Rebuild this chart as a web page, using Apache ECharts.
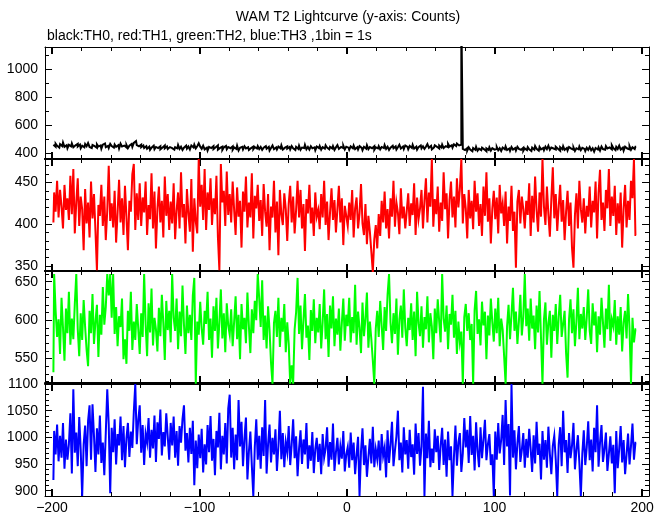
<!DOCTYPE html>
<html><head><meta charset="utf-8">
<script src="https://cdn.jsdelivr.net/npm/echarts@6/dist/echarts.min.js"></script>
<style>html,body{margin:0;padding:0;background:#fff}#c{width:669px;height:515px}</style>
</head><body><div id="c"></div>
<script>
const titleText = 'WAM T2 Lightcurve (y-axis: Counts)';
const subtitleText = 'black:TH0, red:TH1, green:TH2, blue:TH3 ,1bin = 1s';
const binStart = -199; // time (s) of the first 1-s bin; bins follow at 1 s

const th0 = [
462,448,470,455,441,466,452,478,447,459,436,461,450,472,444,458,468,449,463,437,
455,443,467,451,474,446,438,460,452,440,465,449,457,433,462,471,445,454,439,468,
452,441,463,447,458,436,470,449,456,443,461,438,455,467,446,475,488,459,450,462,
444,457,439,452,434,448,426,441,455,430,446,438,451,429,443,457,436,449,431,445,
438,452,427,444,436,460,432,447,425,441,455,434,449,428,457,443,462,436,451,472,
448,433,455,429,441,420,446,438,452,431,444,457,427,439,448,425,442,453,430,446,
437,450,426,443,432,455,421,440,447,429,451,436,444,424,438,449,430,445,435,452,
431,446,425,440,452,433,447,421,439,456,430,443,428,449,436,458,427,441,450,434,
445,428,452,437,424,447,433,455,426,442,438,461,430,446,427,451,436,443,422,449,
438,453,427,445,434,458,441,429,447,436,452,425,443,459,432,446,438,455,429,448,
441,426,450,437,456,431,444,428,452,439,423,447,434,458,430,445,437,451,426,443,
436,452,429,446,438,460,433,448,425,441,455,437,450,428,444,462,435,449,431,457,
446,430,453,439,461,434,448,427,445,457,436,451,432,447,466,440,454,429,443,458,
447,435,456,442,463,438,452,444,468,449,458,441,465,452,470,457,462,1400,432,424,
437,420,444,428,416,439,426,447,419,434,423,441,429,415,436,425,443,420,438,427,
431,446,422,437,418,442,429,450,424,435,419,445,427,438,421,447,432,426,440,418,
436,424,445,430,417,441,427,452,433,420,446,429,438,423,448,431,455,426,442,435,
428,447,433,419,444,430,451,425,439,421,446,434,427,443,418,437,429,449,424,440,
432,417,441,426,446,422,437,413,439,428,444,420,449,431,426,452,435,443,429,458,
438,424,447,432,455,427,441,420,448,435,429,452,426,444,431,447
];
const th1 = [
402,438,415,452,408,441,421,395,447,417,431,405,458,412,466,389,426,455,398,433,
418,369,442,401,426,384,451,407,436,392,345,423,410,447,398,433,381,416,470,404,
425,396,440,378,414,453,402,431,387,446,409,369,428,415,460,472,393,437,405,449,
398,432,414,451,387,423,406,461,395,439,371,418,445,402,428,384,457,410,436,393,
427,401,449,382,416,438,395,462,408,424,377,442,413,391,454,367,431,403,389,478,
421,447,405,466,393,438,417,455,399,431,412,458,385,345,472,426,440,398,463,411,
436,402,451,417,387,444,409,428,372,439,415,457,396,426,408,461,383,434,419,447,
404,429,386,448,415,397,436,369,421,408,452,390,427,363,441,412,399,437,418,380,
425,446,402,433,389,417,452,408,441,395,424,368,430,413,447,401,420,386,438,409,
417,394,436,408,452,399,427,381,414,443,405,429,390,418,446,402,431,375,422,410,
398,426,405,441,384,419,432,395,413,448,401,387,424,376,410,391,367,343,382,399,
371,412,386,428,402,439,395,418,383,431,409,452,397,426,414,388,443,407,421,395,
416,437,398,425,411,449,387,432,406,419,441,395,428,455,402,438,421,478,397,430,
412,445,391,426,404,462,418,437,383,429,451,408,433,396,455,420,442,478,401,436,
419,383,441,407,428,394,452,415,437,398,424,386,445,410,462,403,431,377,418,440,
406,432,389,447,413,425,398,439,377,421,404,446,392,415,348,427,441,401,433,418,
395,428,411,449,386,434,402,457,417,391,438,409,478,421,399,445,412,385,430,468,
407,436,392,421,447,403,429,381,415,440,398,426,372,348,411,437,395,452,418,402,
431,389,422,409,445,396,428,414,451,383,437,465,405,426,392,441,419,466,398,433,
410,446,387,425,401,438,372,419,447,396,428,405,452,431,478,387
];
const th2 = [
532,660,612,578,601,556,629,590,547,615,583,637,568,602,575,621,660,588,553,609,
574,626,591,561,540,612,583,634,569,598,620,552,607,581,643,594,617,660,632,660,
603,660,582,617,566,605,591,628,549,575,543,612,586,637,561,598,574,621,589,556,
609,578,660,595,553,622,584,641,567,603,588,559,616,579,633,596,548,625,587,612,
571,660,603,586,628,562,611,579,645,594,556,619,583,607,574,632,655,517,598,581,
624,589,568,612,595,637,574,602,551,618,586,629,563,597,640,576,609,558,622,593,
581,614,566,598,631,575,607,549,621,588,603,570,636,592,557,614,583,625,600,660,
628,591,652,574,606,563,618,587,544,517,596,612,578,629,565,603,585,621,558,597,
569,517,541,517,588,610,655,582,619,562,600,634,577,593,548,613,586,627,570,603,
584,621,563,597,640,575,608,552,619,589,631,566,602,581,615,560,596,628,573,607,
592,629,571,604,583,646,568,611,590,557,623,579,602,636,564,598,575,547,517,589,
612,578,625,593,561,617,586,633,660,597,570,609,582,628,555,601,619,577,640,590,
566,603,587,622,574,611,553,637,596,579,618,564,604,588,631,571,609,592,549,615,
583,627,598,571,660,602,585,619,562,608,594,633,577,612,556,598,571,585,517,604,
621,586,609,574,595,517,613,638,582,601,567,624,593,611,549,606,580,628,597,572,
615,583,629,566,602,588,553,517,592,620,575,607,642,586,611,569,598,633,580,604,
660,592,615,573,628,589,606,562,619,584,638,577,517,601,623,568,596,612,551,607,
586,621,569,604,633,578,595,612,557,525,601,627,583,614,566,598,642,575,608,589,
617,574,603,640,586,569,622,593,611,558,605,581,629,597,564,615,588,646,573,601,
592,626,568,605,581,617,559,597,612,576,634,589,517,603,571,588
];
const th3 = [
920,1012,968,1024,955,1003,962,1027,941,996,958,987,1045,932,1090,971,1009,946,1038,977,
890,987,1022,946,1031,1060,958,1062,1003,935,1017,968,1041,952,990,929,1008,1090,1024,895,
1018,972,1034,949,1006,985,1039,957,1021,944,998,1027,963,1011,980,1048,1100,987,1032,1060,
971,1023,948,1007,990,1036,962,1014,979,1041,954,1028,997,1052,966,1010,983,1045,1001,958,
1027,985,1039,962,1012,947,1021,990,1034,1060,975,1008,953,1018,969,1031,910,994,942,1005,
961,1016,934,987,949,1023,972,1040,956,997,929,1012,981,1046,940,1003,968,1027,951,1054,
1080,962,1018,940,1005,957,1070,983,1029,946,998,1037,921,973,1011,947,890,982,1034,958,
1003,941,1019,965,1070,932,987,1024,953,999,968,1015,937,983,1050,959,1008,944,991,972,
1021,948,986,1034,961,1002,927,979,1013,950,996,968,1027,941,985,956,1010,933,978,999,
954,988,931,1006,962,979,1019,945,991,958,1026,937,972,999,949,983,960,1012,936,968,
982,943,1009,957,990,931,968,1001,890,974,1017,948,985,926,962,997,951,1020,944,978,
959,994,938,1006,965,981,925,1013,952,987,1029,946,975,1002,1050,957,990,934,1019,968,
995,941,1014,963,987,930,1026,969,1008,947,983,1095,890,1007,961,1031,944,979,952,1015,
972,1003,939,985,1018,948,996,926,1011,957,983,890,964,1022,947,991,1008,935,970,1036,
981,1014,952,1040,967,1003,938,1028,975,944,1019,961,996,1033,957,987,1006,948,968,890,
1011,958,1027,970,995,1042,948,1070,983,1025,891,1100,962,1013,940,989,1021,954,976,1008,
943,997,962,1016,978,935,1004,951,1029,967,988,921,1012,958,995,943,1020,969,931,984,
1003,958,890,987,1019,946,1050,972,995,933,1008,961,984,1027,940,976,1004,952,890,969,
1013,948,981,1030,957,996,936,1018,972,1060,945,990,1023,954,978,1009,937,969,1002,951,
986,895,1012,942,978,1021,953,995,931,968,1007,949,984,1026,958,990
];

const seriesData = [th0, th1, th2, th3];
const seriesColors = ['#000000', '#ff0000', '#00ff00', '#0000ff'];
const xRange = [-204.7, 204.7];
const xMajorTicks = [-200, -100, 0, 100, 200];
const xMinorTicks = [-200,-180,-160,-140,-120,-100,-80,-60,-40,-20,0,20,40,60,80,100,120,140,160,180,200];
const yRanges = [[360, 1160], [344, 478], [518, 664], [890, 1100]];
const yMajorTicks = [[400, 600, 800, 1000], [350, 400, 450], [550, 600, 650], [900, 950, 1000, 1050, 1100]];
const yMinorTicks = [
  [400, 500, 600, 700, 800, 900, 1000, 1100],
  [350, 360, 370, 380, 390, 400, 410, 420, 430, 440, 450, 460, 470],
  [520, 530, 540, 550, 560, 570, 580, 590, 600, 610, 620, 630, 640, 650, 660],
  [890, 900, 910, 920, 930, 940, 950, 960, 970, 980, 990, 1000, 1010, 1020, 1030, 1040, 1050, 1060, 1070, 1080, 1090, 1100]
];

const FONT = '"Liberation Sans", Arial, Helvetica, sans-serif';
const gridTops = [47, 159, 271, 384];
const gridH = 112;
const grids = gridTops.map(t => ({left: 45, right: 20, top: t, height: gridH, show: false, outerBoundsMode: 'none', containLabel: false}));

const xAxes = [], yAxes = [], xIdx = [], yIdx = [];
function fmtX(v) { return v < 0 ? '\u2212' + Math.abs(v) : String(v); }
function fmtY(v) { return String(v); }

function axisCommon(gi, pos, min, max, ticks, len, tw, lw) {
  return {
    type: 'value', gridIndex: gi, position: pos, min: min, max: max,
    axisLine: {show: lw > 0, onZero: false, lineStyle: {color: '#000', width: lw}},
    axisTick: {show: true, inside: true, length: len, customValues: ticks, lineStyle: {color: '#000', width: tw}},
    axisLabel: {show: false},
    splitLine: {show: false}, minorTick: {show: false}, minorSplitLine: {show: false},
    axisPointer: {show: false}
  };
}

for (let p = 0; p < 4; p++) {
  const bottomW = p === 3 ? 1 : 2;
  const topW = p === 0 ? 1 : 2;
  const xb = axisCommon(p, 'bottom', xRange[0], xRange[1], xMinorTicks, 4, 1, bottomW);
  if (p === 3) {
    xb.axisLabel = {show: true, customValues: xMajorTicks, formatter: fmtX, margin: 5,
      color: '#000', fontSize: 14, fontFamily: FONT};
  }
  xIdx.push(xAxes.length); xAxes.push(xb);
  xAxes.push(axisCommon(p, 'bottom', xRange[0], xRange[1], xMajorTicks, 7, 2, 0));
  xAxes.push(axisCommon(p, 'top', xRange[0], xRange[1], xMinorTicks, 4, 1, topW));
  xAxes.push(axisCommon(p, 'top', xRange[0], xRange[1], xMajorTicks, 7, 2, 0));
  const [ymin, ymax] = yRanges[p];
  const yl = axisCommon(p, 'left', ymin, ymax, yMinorTicks[p], 4, 1, 1);
  yl.axisLabel = {show: true, customValues: yMajorTicks[p], formatter: fmtY, margin: 7, color: '#000',
    fontSize: 14, fontFamily: FONT, showMinLabel: true, showMaxLabel: true};
  yIdx.push(yAxes.length); yAxes.push(yl);
  yAxes.push(axisCommon(p, 'left', ymin, ymax, yMajorTicks[p], 7, 1, 0));
  yAxes.push(axisCommon(p, 'right', ymin, ymax, yMinorTicks[p], 4, 1, 1));
  yAxes.push(axisCommon(p, 'right', ymin, ymax, yMajorTicks[p], 7, 1, 0));
}

const series = seriesData.map((arr, p) => ({
  type: 'line', xAxisIndex: xIdx[p], yAxisIndex: yIdx[p],
  data: arr.map((v, i) => [binStart + i, v]),
  step: 'middle', symbol: 'none', showSymbol: false, clip: true, silent: true,
  lineStyle: {color: seriesColors[p], width: 2, join: 'miter', cap: 'butt'},
  z: 1
}));

const chart = echarts.init(document.getElementById('c'), null, {renderer: 'canvas'});
chart.setOption({
  animation: false,
  backgroundColor: '#ffffff',
  grid: grids,
  xAxis: xAxes,
  yAxis: yAxes,
  series: series,
  graphic: [
    {type: 'text', x: 348, y: 17, style: {text: titleText, align: 'center', verticalAlign: 'middle', font: '14px ' + FONT, fill: '#000'}},
    {type: 'text', x: 47, y: 36, style: {text: subtitleText, align: 'left', verticalAlign: 'middle', font: '14px ' + FONT, fill: '#000'}}
  ]
});
</script>
</body></html>
